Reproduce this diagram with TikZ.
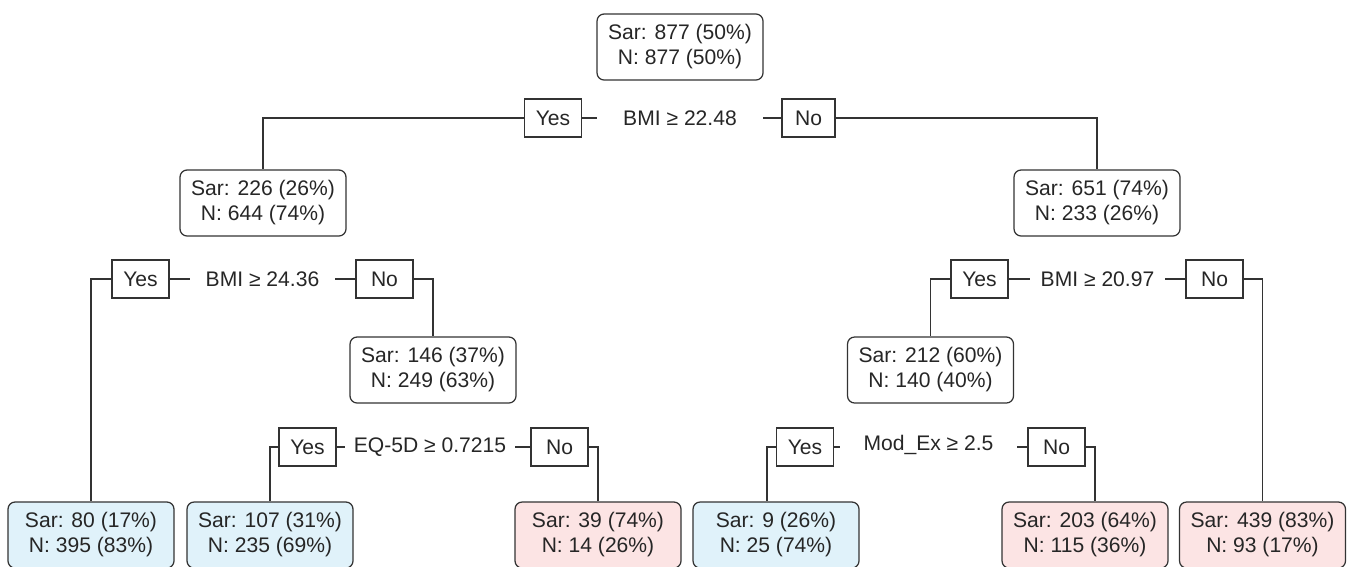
\documentclass[tikz,border=0pt]{standalone}
\usepackage{fontspec}
\setmainfont{Liberation Sans}
\usepackage{tikz}
\usetikzlibrary{positioning}

\definecolor{edgegray}{RGB}{51,51,51}
\definecolor{leafblue}{RGB}{224,242,250}
\definecolor{leafpink}{RGB}{252,228,228}

\tikzset{
  treenode/.style={draw=edgegray, line width=0.7pt, rounded corners=4pt, align=center,
    minimum width=3.32cm, minimum height=1.32cm, inner sep=0pt,
    font=\fontsize{12}{14.2}\selectfont, text=black!85},
  sarleaf/.style={treenode, fill=leafblue},
  nleaf/.style={treenode, fill=leafpink},
  ansbox/.style={draw=edgegray, line width=0.7pt, inner sep=0pt, minimum width=1.14cm,
    minimum height=0.76cm, font=\fontsize{12}{14}\selectfont, text=black!85},
  cond/.style={inner sep=0pt, minimum height=0.76cm, font=\fontsize{12}{14}\selectfont, text=black!85},
  link/.style={draw=edgegray, line width=0.7pt}
}

\begin{document}
\begin{tikzpicture}[x=0.02cm, y=-0.02cm]
\useasboundingbox (0,0) rectangle (1350,566);

% Root
\node[treenode] (root) at (680,47) {Sar: 877 (50\%)\\N: 877 (50\%)};

% Split: BMI >= 22.48
\node[ansbox] (yesA) at (553,118) {Yes};
\node[cond, minimum width=3.32cm] (condA) at (680,118) {BMI ≥ 22.48};
\node[ansbox, minimum width=1.06cm] (noA) at (808.5,118) {No};

% Level 1 nodes
\node[treenode] (left) at (263,203) {Sar: 226 (26\%)\\N: 644 (74\%)};
\node[treenode] (right) at (1097,203) {Sar: 651 (74\%)\\N: 233 (26\%)};

% Split: BMI >= 24.36
\node[ansbox] (yesB) at (140.5,279) {Yes};
\node[cond, minimum width=2.9cm] (condB) at (262.5,279) {BMI ≥ 24.36};
\node[ansbox] (noB) at (384.5,279) {No};

% Split: BMI >= 20.97
\node[ansbox] (yesC) at (979.5,279) {Yes};
\node[cond, minimum width=2.7cm] (condC) at (1097.5,279) {BMI ≥ 20.97};
\node[ansbox] (noC) at (1214.5,279) {No};

% Level 2 nodes
\node[treenode] (leftno) at (433,370) {Sar: 146 (37\%)\\N: 249 (63\%)};
\node[treenode] (rightyes) at (930.5,370) {Sar: 212 (60\%)\\N: 140 (40\%)};

% Split: EQ-5D >= 0.7215
\node[ansbox] (yesD) at (307.5,447) {Yes};
\node[cond, minimum width=3.4cm] (condD) at (430,447) {EQ-5D ≥ 0.7215};
\node[ansbox] (noD) at (559.5,447) {No};

% Split: Mod_Ex >= 2.5
\node[ansbox] (yesE) at (805,447) {Yes};
\node[cond, minimum width=3.54cm] (condE) at (928.5,445) {Mod\_Ex ≥ 2.5};
\node[ansbox] (noE) at (1056.5,447) {No};

% Leaves
\node[sarleaf] (leafA) at (91,535) {Sar: 80 (17\%)\\N: 395 (83\%)};
\node[sarleaf] (leafB) at (270,535) {Sar: 107 (31\%)\\N: 235 (69\%)};
\node[nleaf] (leafC) at (598,535) {Sar: 39 (74\%)\\N: 14 (26\%)};
\node[sarleaf] (leafD) at (776,535) {Sar: 9 (26\%)\\N: 25 (74\%)};
\node[nleaf] (leafE) at (1085,535) {Sar: 203 (64\%)\\N: 115 (36\%)};
\node[nleaf] (leafF) at (1262.5,535) {Sar: 439 (83\%)\\N: 93 (17\%)};

% Connectors
\draw[link] (yesA.west) -| (left.north);
\draw[link] (yesA.east) -- (condA.west);
\draw[link] (condA.east) -- (noA.west);
\draw[link] (noA.east) -| (right.north);

\draw[link] (yesB.west) -| (leafA.north);
\draw[link] (yesB.east) -- (condB.west);
\draw[link] (condB.east) -- (noB.west);
\draw[link] (noB.east) -| (leftno.north);

\draw[link] (yesC.west) -| (rightyes.north);
\draw[link] (yesC.east) -- (condC.west);
\draw[link] (condC.east) -- (noC.west);
\draw[link] (noC.east) -| (leafF.north);

\draw[link] (yesD.west) -| (leafB.north);
\draw[link] (yesD.east) -- (condD.west |- yesD.east);
\draw[link] (condD.east |- noD.west) -- (noD.west);
\draw[link] (noD.east) -| (leafC.north);

\draw[link] (yesE.west) -| ([xshift=-0.18cm]leafD.north);
\draw[link] (yesE.east) -- (condE.west |- yesE.east);
\draw[link] (condE.east |- noE.west) -- (noE.west);
\draw[link] (noE.east) -| ([xshift=0.2cm]leafE.north);

\end{tikzpicture}
\end{document}
